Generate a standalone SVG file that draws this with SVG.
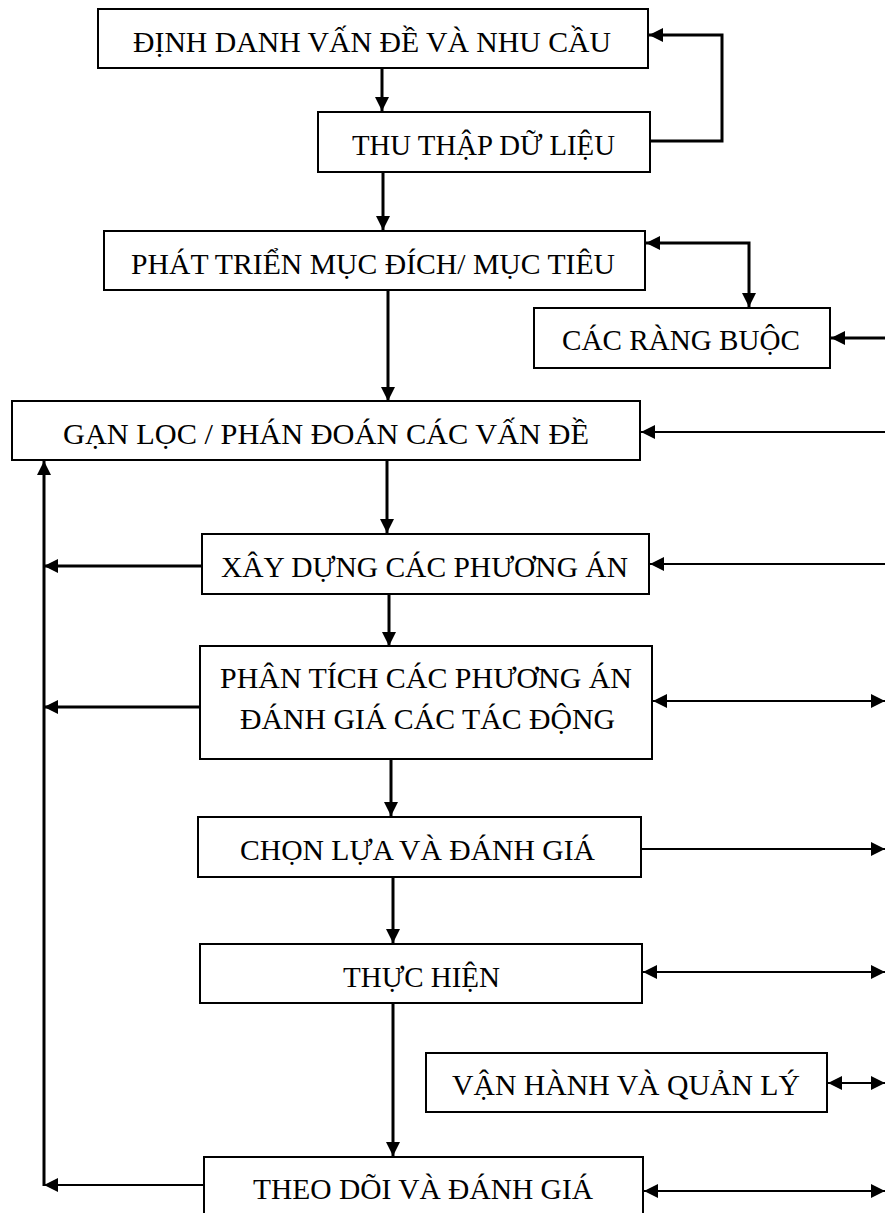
<svg xmlns="http://www.w3.org/2000/svg" width="885" height="1213" viewBox="0 0 885 1213">
<style>
.box{fill:#fff;stroke:#000;stroke-width:2}
.t{font-family:"Liberation Serif","Times New Roman",serif;font-size:29.5px;fill:#000}
.c{fill:none;stroke:#000;stroke-width:2}
.v{stroke-width:3}
.e{marker-end:url(#ah)}
.s{marker-start:url(#ah)}
</style>
<defs>
<marker id="ah" markerUnits="userSpaceOnUse" markerWidth="15" markerHeight="15" refX="14" refY="7" orient="auto-start-reverse">
<path d="M0,0 L14,7 L0,14 z" fill="#000"/>
</marker>
</defs>
<rect width="885" height="1213" fill="#fff"/>
<g id="connectors">
<path class="c v e" d="M382,68 V111"/>
<path class="c v e" d="M650,141 H722 V35 H649"/>
<path class="c v e" d="M383,172 V230"/>
<path class="c v s e" d="M646,243 H749 V307"/>
<path class="c v e" d="M885,338 H831"/>
<path class="c v e" d="M388,290 V401"/>
<path class="c e" d="M885,432 H641"/>
<path class="c v e" d="M387,460 V533"/>
<path class="c v e" d="M201,566 H44"/>
<path class="c e" d="M885,564 H650"/>
<path class="c v e" d="M389,594 V646"/>
<path class="c v e" d="M200,707 H44"/>
<path class="c s e" d="M653,701 H885"/>
<path class="c v e" d="M391,759 V816"/>
<path class="c e" d="M641,849 H885"/>
<path class="c v e" d="M393,877 V943"/>
<path class="c s e" d="M643,972 H885"/>
<path class="c v e" d="M393,1003 V1156"/>
<path class="c s e" d="M828,1083 H885"/>
<path class="c e" d="M204,1185 H44"/>
<path class="c v e" d="M44,1186 V461"/>
<path class="c s e" d="M644,1191 H885"/>
</g>
<g id="n1"><rect class="box" x="98" y="9" width="550" height="59"/><text class="t" x="133" y="52" textLength="478" lengthAdjust="spacingAndGlyphs">ĐỊNH DANH VẤN ĐỀ VÀ NHU CẦU</text></g>
<g id="n2"><rect class="box" x="318" y="112" width="332" height="60"/><text class="t" x="352" y="155" textLength="263" lengthAdjust="spacingAndGlyphs">THU THẬP DỮ LIỆU</text></g>
<g id="n3"><rect class="box" x="104" y="231" width="541" height="59"/><text class="t" x="131" y="274" textLength="484" lengthAdjust="spacingAndGlyphs">PHÁT TRIỂN MỤC ĐÍCH/ MỤC TIÊU</text></g>
<g id="n4"><rect class="box" x="534" y="308" width="296" height="60"/><text class="t" x="562" y="350" textLength="238" lengthAdjust="spacingAndGlyphs">CÁC RÀNG BUỘC</text></g>
<g id="n5"><rect class="box" x="12" y="401" width="628" height="59"/><text class="t" x="63" y="444" textLength="526" lengthAdjust="spacingAndGlyphs">GẠN LỌC / PHÁN ĐOÁN CÁC VẤN ĐỀ</text></g>
<g id="n6"><rect class="box" x="202" y="534" width="447" height="60"/><text class="t" x="221" y="577" textLength="407" lengthAdjust="spacingAndGlyphs">XÂY DỰNG CÁC PHƯƠNG ÁN</text></g>
<g id="n7"><rect class="box" x="200" y="646" width="452" height="113"/><text class="t" x="220" y="688" textLength="412" lengthAdjust="spacingAndGlyphs">PHÂN TÍCH CÁC PHƯƠNG ÁN</text><text class="t" x="240" y="729" textLength="375" lengthAdjust="spacingAndGlyphs">ĐÁNH GIÁ CÁC TÁC ĐỘNG</text></g>
<g id="n8"><rect class="box" x="198" y="817" width="443" height="60"/><text class="t" x="240" y="860" textLength="355" lengthAdjust="spacingAndGlyphs">CHỌN LỰA VÀ ĐÁNH GIÁ</text></g>
<g id="n9"><rect class="box" x="200" y="944" width="442" height="59"/><text class="t" x="343" y="987" textLength="157" lengthAdjust="spacingAndGlyphs">THỰC HIỆN</text></g>
<g id="n10"><rect class="box" x="426" y="1053" width="401" height="59"/><text class="t" x="452" y="1095" textLength="348" lengthAdjust="spacingAndGlyphs">VẬN HÀNH VÀ QUẢN LÝ</text></g>
<g id="n11"><rect class="box" x="204" y="1157" width="439" height="70"/><text class="t" x="253" y="1199" textLength="340" lengthAdjust="spacingAndGlyphs">THEO DÕI VÀ ĐÁNH GIÁ</text></g>
</svg>
